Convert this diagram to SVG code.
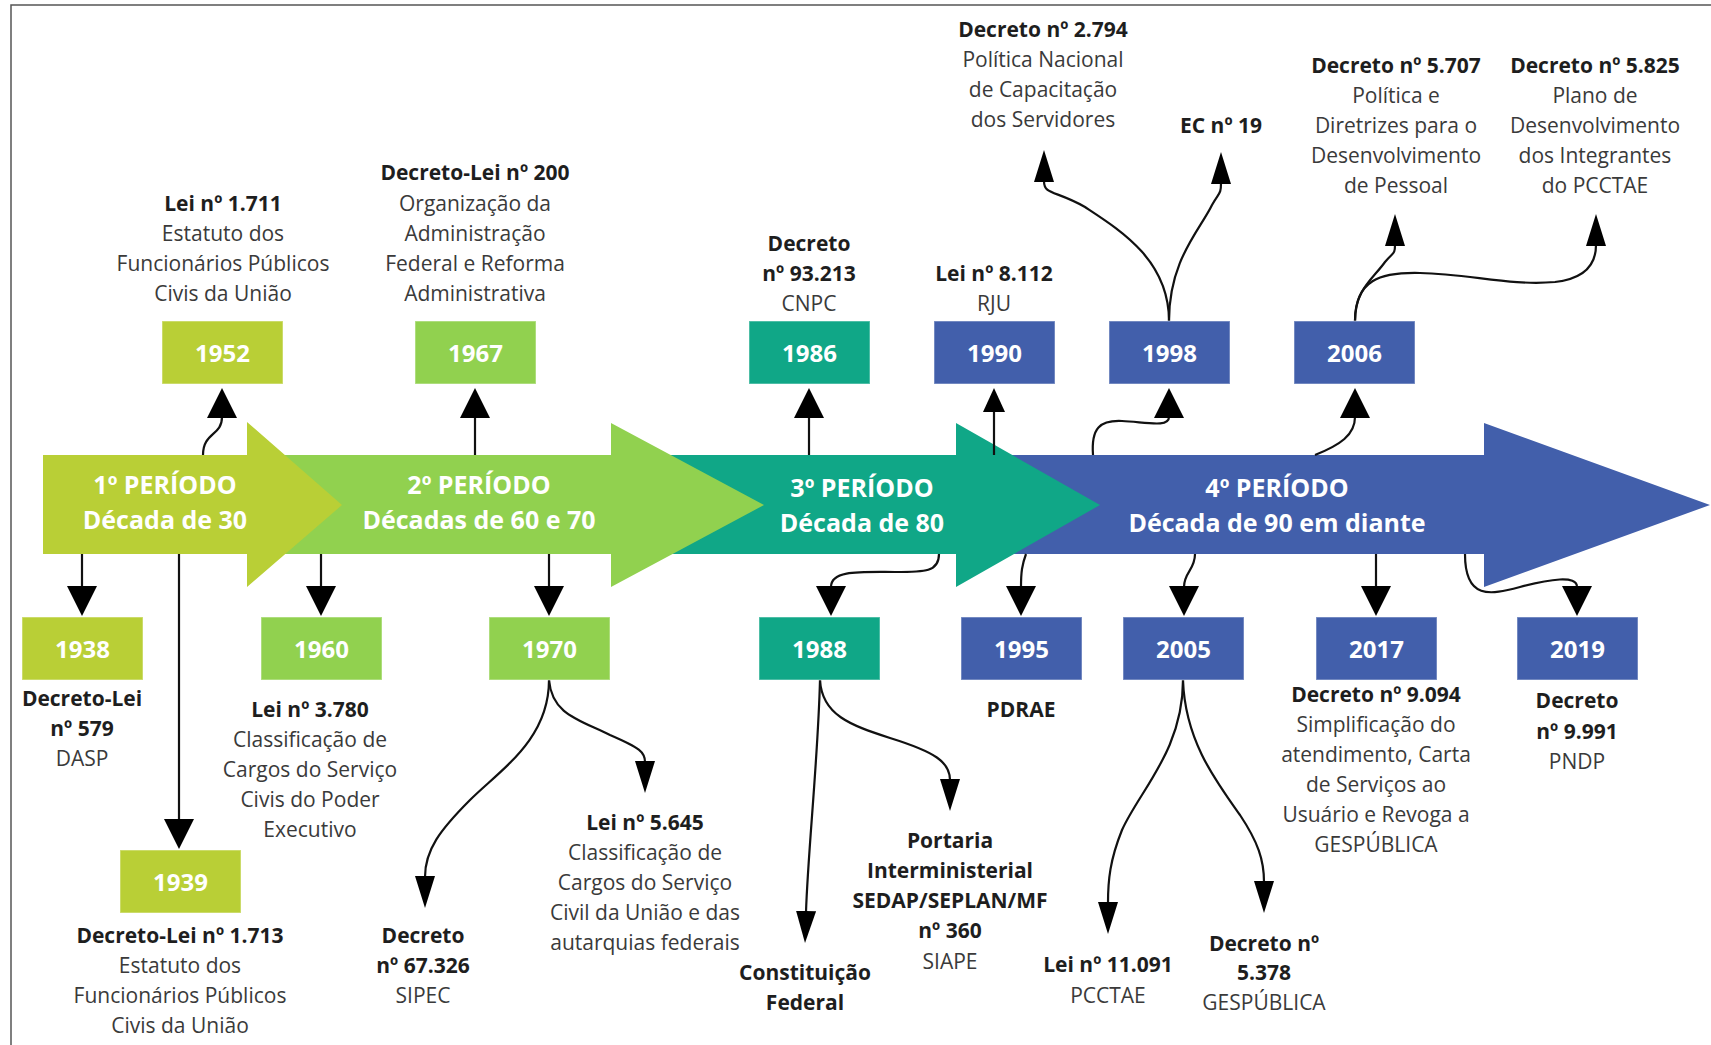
<svg xmlns="http://www.w3.org/2000/svg" width="1711" height="1045" viewBox="0 0 1711 1045">
<defs>
<style>
text{font-family:"Open Sans","Noto Sans","Liberation Sans",sans-serif;text-anchor:middle}
.b{font-size:21px;font-weight:700;fill:#1e1e1e}
.r{font-size:21px;fill:#3a3a3a}
.yr{font-size:24px;font-weight:700;fill:#ffffff}
.pd{font-size:25px;font-weight:700;fill:#ffffff}
.c1{fill:#B9CF36}
.c2{fill:#91D14F}
.c3{fill:#10A787}
.c4{fill:#425FAB}
.ln{fill:none;stroke:#111;stroke-width:2.2}
.bx{stroke-width:1.5;stroke-opacity:0.35;stroke:#ffffff}
</style>
<marker id="big" viewBox="0 0 30 30" refX="1" refY="15" markerWidth="30" markerHeight="30" markerUnits="userSpaceOnUse" orient="auto">
<path d="M0,0 L30,15 L0,30 Z" fill="#000"/>
</marker>
<marker id="mid" viewBox="0 0 24 22" refX="1" refY="11" markerWidth="24" markerHeight="22" markerUnits="userSpaceOnUse" orient="auto">
<path d="M0,0 L24,11 L0,22 Z" fill="#000"/>
</marker>
<marker id="thin" viewBox="0 0 32 20" refX="1" refY="10" markerWidth="32" markerHeight="20" markerUnits="userSpaceOnUse" orient="auto">
<path d="M0,0 L32,10 L0,20 Z" fill="#000"/>
</marker>
</defs>
<rect x="0" y="0" width="1711" height="1045" fill="#ffffff"/>
<g id="frame" fill="none" stroke="#555" stroke-width="1.5">
<path d="M11,1045 L11,5 L1711,5"/>
</g>

<g id="timeline">
<polygon id="p4" class="c4" points="940,455 1484,455 1484,423 1710,505 1484,587 1484,554 940,554"/>
<polygon id="p3" class="c3" points="600,455 956,455 956,423 1100,505 956,587 956,554 600,554"/>
<polygon id="p2" class="c2" points="240,455 611,455 611,423 764,505 611,587 611,554 240,554"/>
<polygon id="p1" class="c1" points="43,455 247,455 247,422 342,505 247,587 247,554 43,554"/>
<text class="pd" x="165" y="494">1º PERÍODO</text>
<text class="pd" x="165" y="529">Década de 30</text>
<text class="pd" x="479" y="494">2º PERÍODO</text>
<text class="pd" x="479" y="529">Décadas de 60 e 70</text>
<text class="pd" x="862" y="497">3º PERÍODO</text>
<text class="pd" x="862" y="532">Década de 80</text>
<text class="pd" x="1277" y="497">4º PERÍODO</text>
<text class="pd" x="1277" y="532">Década de 90 em diante</text>
</g>

<g id="connectors">
<path class="ln" d="M203,455 C203,432 222,436 222,417" marker-end="url(#big)"/>
<path class="ln" d="M475,455 L475,417" marker-end="url(#big)"/>
<path class="ln" d="M809,455 L809,417" marker-end="url(#big)"/>
<path class="ln" d="M994,455 L994,411" marker-end="url(#mid)"/>
<path class="ln" d="M1093,455 C1091,428 1100,420 1122,421 C1145,422 1169,428 1169,417" marker-end="url(#big)"/>
<path class="ln" d="M1315,455 C1340,445 1355,435 1355,417" marker-end="url(#big)"/>
<path class="ln" d="M1169,321 C1169,260 1120,230 1085,207 C1055,190 1044,195 1044,181" marker-end="url(#thin)"/>
<path class="ln" d="M1169,321 C1169,260 1200,230 1212,205 C1219,192 1221,195 1221,183" marker-end="url(#thin)"/>
<path class="ln" d="M1355,321 C1355,290 1372,280 1385,262 C1393,252 1395,255 1395,245" marker-end="url(#thin)"/>
<path class="ln" d="M1355,321 C1355,280 1380,272 1420,273 C1470,274 1510,286 1555,282 C1590,278 1596,260 1596,245" marker-end="url(#thin)"/>
<path class="ln" d="M82,554 L82,587" marker-end="url(#big)"/>
<path class="ln" d="M179,554 L179,820" marker-end="url(#big)"/>
<path class="ln" d="M321,554 L321,587" marker-end="url(#big)"/>
<path class="ln" d="M549,554 L549,587" marker-end="url(#big)"/>
<path class="ln" d="M939,554 C939,572 925,572 895,572 C860,572 831,570 831,587" marker-end="url(#big)"/>
<path class="ln" d="M1026,554 C1022,565 1021,572 1021,587" marker-end="url(#big)"/>
<path class="ln" d="M1195,554 C1195,570 1184,572 1184,587" marker-end="url(#big)"/>
<path class="ln" d="M1376,554 L1376,587" marker-end="url(#big)"/>
<path class="ln" d="M1465,554 C1465,600 1490,595 1520,587 C1550,579 1577,575 1577,587" marker-end="url(#big)"/>
<path class="ln" d="M549,680 C549,740 500,770 470,800 C440,830 425,850 425,877" marker-end="url(#thin)"/>
<path class="ln" d="M549,680 C552,715 580,720 610,735 C640,748 645,752 645,762" marker-end="url(#thin)"/>
<path class="ln" d="M820,680 C818,760 808,850 806,912" marker-end="url(#thin)"/>
<path class="ln" d="M820,680 C822,715 850,725 890,738 C935,752 950,762 950,780" marker-end="url(#thin)"/>
<path class="ln" d="M1183,680 C1183,750 1140,790 1122,830 C1110,860 1108,880 1108,903" marker-end="url(#thin)"/>
<path class="ln" d="M1183,680 C1185,740 1215,780 1240,815 C1258,842 1264,860 1264,882" marker-end="url(#thin)"/>
</g>

<g id="n1952"><rect class="c1 bx" x="162" y="321" width="121" height="63"/><text class="yr" x="222.5" y="362">1952</text>
<text class="b" x="223" y="211">Lei nº 1.711</text><text class="r" x="223" y="241">Estatuto dos</text><text class="r" x="223" y="271">Funcionários Públicos</text><text class="r" x="223" y="301">Civis da União</text></g>

<g id="n1967"><rect class="c2 bx" x="415" y="321" width="121" height="63"/><text class="yr" x="475.5" y="362">1967</text>
<text class="b" x="475" y="180">Decreto-Lei nº 200</text><text class="r" x="475" y="211">Organização da</text><text class="r" x="475" y="241">Administração</text><text class="r" x="475" y="271">Federal e Reforma</text><text class="r" x="475" y="301">Administrativa</text></g>

<g id="n1986"><rect class="c3 bx" x="749" y="321" width="121" height="63"/><text class="yr" x="809.5" y="362">1986</text>
<text class="b" x="809" y="251">Decreto</text><text class="b" x="809" y="281">nº 93.213</text><text class="r" x="809" y="311">CNPC</text></g>

<g id="n1990"><rect class="c4 bx" x="934" y="321" width="121" height="63"/><text class="yr" x="994.5" y="362">1990</text>
<text class="b" x="994" y="281">Lei nº 8.112</text><text class="r" x="994" y="311">RJU</text></g>

<g id="n1998"><rect class="c4 bx" x="1109" y="321" width="121" height="63"/><text class="yr" x="1169.5" y="362">1998</text></g>
<g id="d2794"><text class="b" x="1043" y="37">Decreto nº 2.794</text><text class="r" x="1043" y="67">Política Nacional</text><text class="r" x="1043" y="97">de Capacitação</text><text class="r" x="1043" y="127">dos Servidores</text></g>
<g id="ec19"><text class="b" x="1221" y="133">EC nº 19</text></g>

<g id="n2006"><rect class="c4 bx" x="1294" y="321" width="121" height="63"/><text class="yr" x="1354.5" y="362">2006</text></g>
<g id="d5707"><text class="b" x="1396" y="73">Decreto nº 5.707</text><text class="r" x="1396" y="103">Política e</text><text class="r" x="1396" y="133">Diretrizes para o</text><text class="r" x="1396" y="163">Desenvolvimento</text><text class="r" x="1396" y="193">de Pessoal</text></g>
<g id="d5825"><text class="b" x="1595" y="73">Decreto nº 5.825</text><text class="r" x="1595" y="103">Plano de</text><text class="r" x="1595" y="133">Desenvolvimento</text><text class="r" x="1595" y="163">dos Integrantes</text><text class="r" x="1595" y="193">do PCCTAE</text></g>

<g id="n1938"><rect class="c1 bx" x="22" y="617" width="121" height="63"/><text class="yr" x="82.5" y="658">1938</text>
<text class="b" x="82" y="706">Decreto-Lei</text><text class="b" x="82" y="736">nº 579</text><text class="r" x="82" y="766">DASP</text></g>

<g id="n1939"><rect class="c1 bx" x="120" y="850" width="121" height="63"/><text class="yr" x="180.5" y="891">1939</text>
<text class="b" x="180" y="943">Decreto-Lei nº 1.713</text><text class="r" x="180" y="973">Estatuto dos</text><text class="r" x="180" y="1003">Funcionários Públicos</text><text class="r" x="180" y="1033">Civis da União</text></g>

<g id="n1960"><rect class="c2 bx" x="261" y="617" width="121" height="63"/><text class="yr" x="321.5" y="658">1960</text>
<text class="b" x="310" y="717">Lei nº 3.780</text><text class="r" x="310" y="747">Classificação de</text><text class="r" x="310" y="777">Cargos do Serviço</text><text class="r" x="310" y="807">Civis do Poder</text><text class="r" x="310" y="837">Executivo</text></g>

<g id="n1970"><rect class="c2 bx" x="489" y="617" width="121" height="63"/><text class="yr" x="549.5" y="658">1970</text></g>
<g id="d67326"><text class="b" x="423" y="943">Decreto</text><text class="b" x="423" y="973">nº 67.326</text><text class="r" x="423" y="1003">SIPEC</text></g>
<g id="l5645"><text class="b" x="645" y="830">Lei nº 5.645</text><text class="r" x="645" y="860">Classificação de</text><text class="r" x="645" y="890">Cargos do Serviço</text><text class="r" x="645" y="920">Civil da União e das</text><text class="r" x="645" y="950">autarquias federais</text></g>

<g id="n1988"><rect class="c3 bx" x="759" y="617" width="121" height="63"/><text class="yr" x="819.5" y="658">1988</text></g>
<g id="cf"><text class="b" x="805" y="980">Constituição</text><text class="b" x="805" y="1010">Federal</text></g>
<g id="p360"><text class="b" x="950" y="848">Portaria</text><text class="b" x="950" y="878">Interministerial</text><text class="b" x="950" y="908">SEDAP/SEPLAN/MF</text><text class="b" x="950" y="938">nº 360</text><text class="r" x="950" y="969">SIAPE</text></g>

<g id="n1995"><rect class="c4 bx" x="961" y="617" width="121" height="63"/><text class="yr" x="1021.5" y="658">1995</text>
<text class="b" x="1021" y="717">PDRAE</text></g>

<g id="n2005"><rect class="c4 bx" x="1123" y="617" width="121" height="63"/><text class="yr" x="1183.5" y="658">2005</text></g>
<g id="l11091"><text class="b" x="1108" y="972">Lei nº 11.091</text><text class="r" x="1108" y="1003">PCCTAE</text></g>
<g id="d5378"><text class="b" x="1264" y="951">Decreto nº</text><text class="b" x="1264" y="980">5.378</text><text class="r" x="1264" y="1010">GESPÚBLICA</text></g>

<g id="n2017"><rect class="c4 bx" x="1316" y="617" width="121" height="63"/><text class="yr" x="1376.5" y="658">2017</text>
<text class="b" x="1376" y="702">Decreto nº 9.094</text><text class="r" x="1376" y="732">Simplificação do</text><text class="r" x="1376" y="762">atendimento, Carta</text><text class="r" x="1376" y="792">de Serviços ao</text><text class="r" x="1376" y="822">Usuário e Revoga a</text><text class="r" x="1376" y="852">GESPÚBLICA</text></g>

<g id="n2019"><rect class="c4 bx" x="1517" y="617" width="121" height="63"/><text class="yr" x="1577.5" y="658">2019</text>
<text class="b" x="1577" y="708">Decreto</text><text class="b" x="1577" y="739">nº 9.991</text><text class="r" x="1577" y="769">PNDP</text></g>
</svg>
